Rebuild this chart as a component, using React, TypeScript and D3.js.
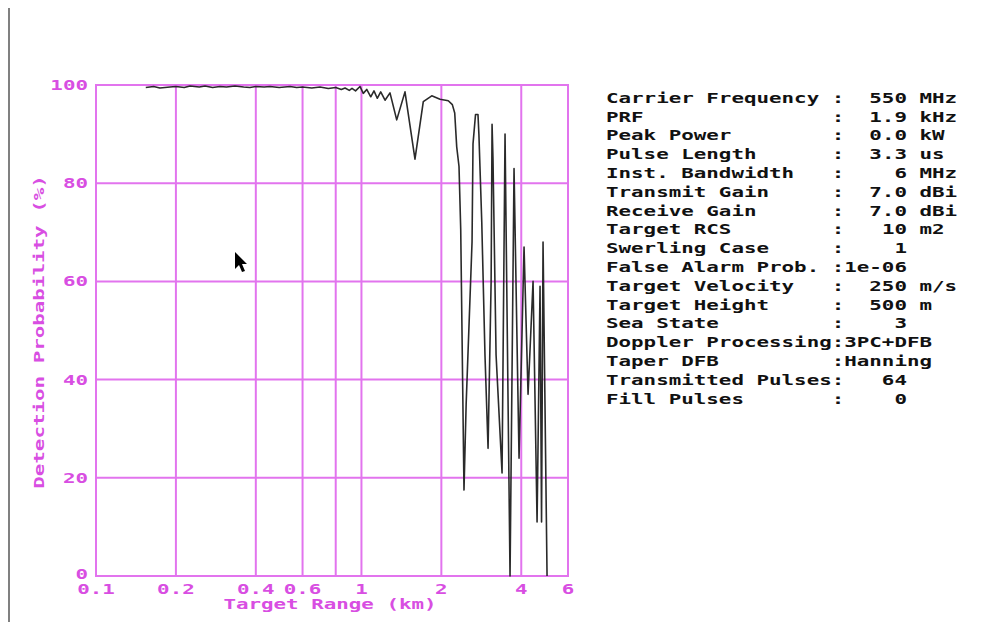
import React from "react";
import * as d3 from "d3";

const rangeKm = [
  0.154, 0.165, 0.174, 0.19, 0.2, 0.215, 0.226, 0.245, 0.2575, 0.275, 0.293, 0.31, 0.3338, 0.36, 0.38, 0.4,
  0.43, 0.4523, 0.49, 0.5381, 0.57, 0.6, 0.65, 0.6981, 0.75, 0.8, 0.84, 0.8674, 0.9, 0.9215, 0.95, 0.9876,
  1.016, 1.047, 1.084, 1.115, 1.147, 1.182, 1.227, 1.281, 1.358, 1.459, 1.591, 1.71, 1.84, 1.977, 2.124, 2.2,
  2.246, 2.285, 2.331, 2.366, 2.434, 2.48, 2.61, 2.632, 2.69, 2.748, 2.77, 2.84, 2.92, 2.999, 3.08, 3.105,
  3.13, 3.215, 3.386, 3.475, 3.629, 3.757, 3.924, 4.098, 4.243, 4.431, 4.588, 4.708, 4.77, 4.832, 5.003,
];
const detectionPct = [
  99.5, 99.7, 99.4, 99.6, 99.7, 99.5, 99.8, 99.6, 99.8, 99.5, 99.7, 99.6, 99.8, 99.6, 99.5, 99.7,
  99.6, 99.7, 99.5, 99.7, 99.5, 99.6, 99.4, 99.6, 99.3, 99.5, 99.1, 99.4, 98.9, 99.3, 98.8, 99.7,
  98.3, 99.1, 97.6, 98.8, 97.3, 98.6, 96.9, 98.4, 92.9, 98.6, 84.9, 96.6, 97.8, 97.1, 96.8, 96,
  94.3, 87.4, 83.4, 70.5, 17.5, 35, 68, 88, 94, 94, 90, 72, 45, 26, 60, 92,
  85, 45, 21, 90, 0, 83, 24, 67, 37, 60, 11, 59, 11, 68, 0,
];

const xTicks = [0.1, 0.2, 0.4, 0.6, 1, 2, 4, 6];
const xTickLabels = ["0.1", "0.2", "0.4", "0.6", "1", "2", "4", "6"];
const xGrid = [0.2, 0.4, 0.6, 0.8, 1, 2, 4];
const yTicks = [0, 20, 40, 60, 80, 100];
const yGrid = [20, 40, 60, 80];

const paramNames = [
  "Carrier Frequency ", "PRF", "Peak Power", "Pulse Length", "Inst. Bandwidth", "Transmit Gain",
  "Receive Gain", "Target RCS", "Swerling Case", "False Alarm Prob. ", "Target Velocity", "Target Height",
  "Sea State", "Doppler Processing", "Taper DFB", "Transmitted Pulses", "Fill Pulses",
];
const paramValues = [
  "  550 MHz", "  1.9 kHz", "  0.0 kW", "  3.3 us", "    6 MHz", "  7.0 dBi",
  "  7.0 dBi", "   10 m2", "    1", "1e-06", "  250 m/s", "  500 m",
  "    3", "3PC+DFB", "Hanning", "   64", "    0",
];

const GRID = "#e274ee";
const TXT = "#d84ee2";
const FONT = "'DejaVu Sans Mono', monospace";
const CW = 12.54;

export default function App() {
  const W = 982, H = 622;
  const x = d3.scaleLog().domain([0.1, 6]).range([96, 568]);
  const y = d3.scaleLinear().domain([0, 100]).range([576, 85]);
  const pts: [number, number][] = rangeKm.map((r, i) => [r, detectionPct[i]]);
  const line = d3.line<[number, number]>().x(d => x(d[0])).y(d => y(d[1]));
  const lines = paramNames.map((n, i) => n.padEnd(18, " ") + ":" + paramValues[i]);

  const monoText = (s: string, props: any) => (
    <text {...props} fontFamily={FONT} fontWeight="bold" fontSize={14}
      textLength={s.length * CW} lengthAdjust="spacingAndGlyphs" style={{ whiteSpace: "pre" }}>{s}</text>
  );

  return (
    <svg width={W} height={H} style={{ position: "absolute", left: 0, top: 0, background: "#fff" }}>
      <rect x={0} y={0} width={W} height={H} fill="#fff" />
      <line x1={9} x2={9} y1={8} y2={622} stroke="#808080" strokeWidth={2} />
      {xGrid.map(v => (
        <line key={"xg" + v} x1={x(v)} x2={x(v)} y1={y(0)} y2={y(100)} stroke={GRID} strokeWidth={2} />
      ))}
      {yGrid.map(v => (
        <line key={"yg" + v} x1={x(0.1)} x2={x(6)} y1={y(v)} y2={y(v)} stroke={GRID} strokeWidth={2} />
      ))}
      <rect x={x(0.1)} y={y(100)} width={x(6) - x(0.1)} height={y(0) - y(100)} fill="none" stroke={GRID} strokeWidth={2} />
      <path d={line(pts) || ""} fill="none" stroke="#2a2a2a" strokeWidth={1.6} strokeLinejoin="round" />
      {yTicks.map(v => {
        const s = String(v);
        return <g key={"yt" + v}>{monoText(s, { x: 88 - s.length * CW, y: y(v) + (v === 0 ? 3 : 5), fill: TXT })}</g>;
      })}
      {xTicks.map((v, i) => {
        const s = xTickLabels[i];
        return <g key={"xt" + v}>{monoText(s, { x: x(v) - (s.length * CW) / 2, y: 594, fill: TXT })}</g>;
      })}
      {monoText("Target Range (km)", { x: 330 - (17 * CW) / 2, y: 609, fill: TXT })}
      <g transform="translate(44,332) rotate(-90)">
        {monoText("Detection Probability (%)", { x: -(25 * CW) / 2, y: 0, fill: TXT })}
      </g>
      {lines.map((s, i) => (
        <g key={"p" + i}>{monoText(s, { x: 606, y: 102.7 + i * 18.8, fill: "#111" })}</g>
      ))}
      <path transform="translate(235,252)" d="M0,0 L0,17 L4,13 L7,20 L10,19 L7,12 L12,12 Z" fill="#000" />
    </svg>
  );
}
